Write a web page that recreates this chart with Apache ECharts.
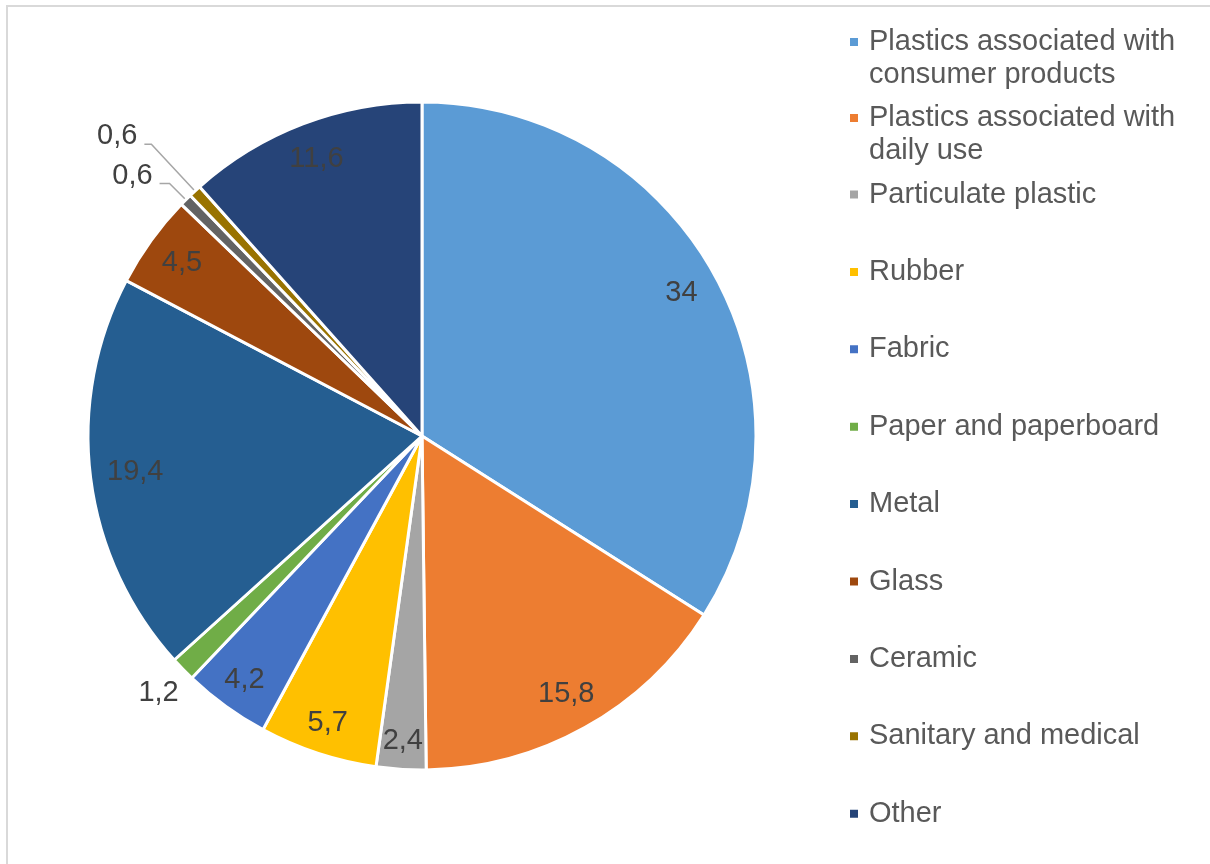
<!DOCTYPE html>
<html>
<head>
<meta charset="utf-8">
<script src="https://cdn.jsdelivr.net/npm/echarts@6/dist/echarts.min.js"></script>
<style>
  html, body { margin: 0; padding: 0; background: #ffffff; }
  #chart { width: 1210px; height: 864px; }
</style>
</head>
<body>
<div id="chart"></div>
<script>
// Composition of collected litter, percent by category
const categories = [
  'Plastics associated with\nconsumer products',
  'Plastics associated with\ndaily use',
  'Particulate plastic',
  'Rubber',
  'Fabric',
  'Paper and paperboard',
  'Metal',
  'Glass',
  'Ceramic',
  'Sanitary and medical',
  'Other'
];
const shares = [34, 15.8, 2.4, 5.7, 4.2, 1.2, 19.4, 4.5, 0.6, 0.6, 11.6];

const palette = ['#5B9BD5', '#ED7D31', '#A5A5A5', '#FFC000', '#4472C4', '#70AD47',
                 '#255E91', '#9E480E', '#636363', '#997300', '#264478'];

const FONT = "'Liberation Sans', Arial, sans-serif";
const CENTER = [422, 436];
const RADIUS = 334;

// distance of each inside label from the pie centre (px)
const labelReach = {
  'Particulate plastic': 306,
  'Rubber': 302,
  'Fabric': 302,
  'Paper and paperboard': 368,
  'Metal': 289
};
const DEFAULT_REACH = 296;

// small slices that carry a leader line; text sits a little above the line
const leaderLabels = {
  'Ceramic': { length: 23, length2: 10 },
  'Sanitary and medical': { length: 64, length2: 7 }
};
const LEADER_TEXT_RAISE = 8;

const pieData = categories.map(function (name, i) {
  const item = { name: name, value: shares[i], itemStyle: { color: palette[i] } };
  const lead = leaderLabels[name];
  if (lead) {
    item.label = { position: 'outside', distanceToLabelLine: 7 };
    item.labelLine = { show: true, length: lead.length, length2: lead.length2,
                       lineStyle: { color: '#A6A6A6', width: 1.5 } };
  }
  return item;
});

const chart = echarts.init(document.getElementById('chart'), null, { renderer: 'canvas' });

const legendText = { fontFamily: FONT, fontSize: 29, color: '#595959', lineHeight: 33, padding: [0, 0, 0, 5] };

const legendCommon = {
  orient: 'vertical',
  left: 848,
  padding: 0,
  icon: 'rect',
  itemWidth: 10,
  itemHeight: 10,
  selectedMode: false,
  textStyle: legendText
};

// a leading empty line keeps the marker beside the first line of a wrapped entry
const wrappedEntry = function (name) { return '\n' + name; };

chart.setOption({
  backgroundColor: '#ffffff',
  animation: false,
  graphic: [{
    type: 'rect',
    silent: true,
    shape: { x: 7, y: 6, width: 1300, height: 1000 },
    style: { fill: 'none', stroke: '#D9D9D9', lineWidth: 2 }
  }],
  legend: [
    Object.assign({}, legendCommon, { top: -7.5, data: [categories[0]], formatter: wrappedEntry }),
    Object.assign({}, legendCommon, { top: 68.5, data: [categories[1]], formatter: wrappedEntry }),
    Object.assign({}, legendCommon, { top: 178, itemGap: 44.4, data: categories.slice(2) })
  ],
  series: [{
    type: 'pie',
    center: CENTER,
    radius: RADIUS,
    startAngle: 90,
    clockwise: true,
    avoidLabelOverlap: false,
    itemStyle: { borderColor: '#ffffff', borderWidth: 3 },
    emphasis: { disabled: true },
    label: {
      show: true,
      position: 'inside',
      fontFamily: FONT,
      fontSize: 29,
      color: '#404040',
      formatter: function (p) { return String(p.value).replace('.', ','); }
    },
    labelLine: { show: false },
    labelLayout: function (params) {
      const name = categories[params.dataIndex];
      if (leaderLabels[name]) return { dy: -LEADER_TEXT_RAISE };
      const r = params.labelRect;
      const vx = r.x + r.width / 2 - CENTER[0];
      const vy = r.y + r.height / 2 - CENTER[1];
      const d = Math.sqrt(vx * vx + vy * vy) || 1;
      const reach = labelReach[name] || DEFAULT_REACH;
      return { dx: vx / d * (reach - d), dy: vy / d * (reach - d) };
    },
    data: pieData
  }]
});
</script>
</body>
</html>
